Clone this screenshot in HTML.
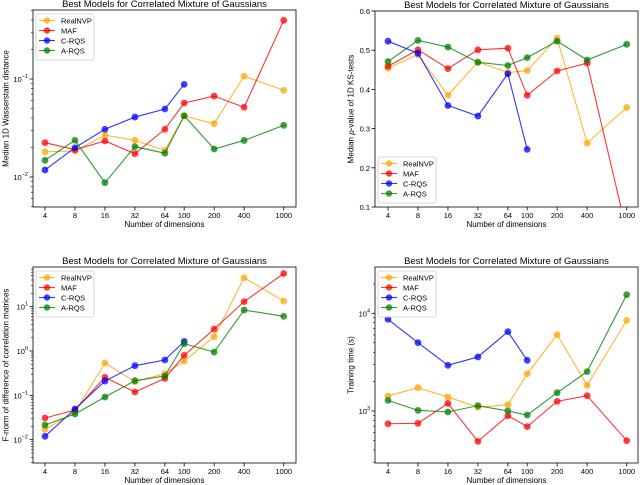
<!DOCTYPE html>
<html><head><meta charset="utf-8">
<style>
html,body{margin:0;padding:0;background:#fff;}
svg{display:block;font-family:"Liberation Sans","DejaVu Sans",sans-serif;}
</style></head>
<body>
<svg id="fig" width="640" height="485" viewBox="0 0 640 485" xmlns="http://www.w3.org/2000/svg"></svg>
<script>
const dims = [4, 8, 16, 32, 64, 100, 200, 400, 1000];
const seriesNames = ["RealNVP", "MAF", "C-RQS", "A-RQS"];
// Panel 1: Median 1D Wasserstein distance
const w_realnvp = [0.0181, 0.0184, 0.0268, 0.0237, 0.0187, 0.0419, 0.035, 0.107, 0.0767];
const w_maf = [0.0224, 0.019, 0.0233, 0.0173, 0.0307, 0.0569, 0.067, 0.0514, 0.397];
const w_crqs = [0.0118, 0.0199, 0.0307, 0.0409, 0.0494, 0.0882];
const w_arqs = [0.0148, 0.0237, 0.00875, 0.0204, 0.0175, 0.0422, 0.0193, 0.0236, 0.0337];
// Panel 2: Median p-value of KS tests
const p_realnvp = [0.454, 0.489, 0.385, 0.470, 0.443, 0.448, 0.531, 0.263, 0.354];
const p_maf = [0.459, 0.501, 0.453, 0.501, 0.505, 0.385, 0.447, 0.467, 0.037];
const p_crqs = [0.523, 0.492, 0.359, 0.332, 0.440, 0.247];
const p_arqs = [0.471, 0.525, 0.508, 0.469, 0.461, 0.481, 0.523, 0.475, 0.515];
// Panel 3: F-norm
const f_realnvp = [0.0171, 0.042, 0.536, 0.203, 0.308, 0.594, 2.1, 45, 13.4];
const f_maf = [0.0308, 0.0467, 0.255, 0.119, 0.241, 0.798, 3.13, 13, 56];
const f_crqs = [0.0119, 0.0492, 0.21, 0.467, 0.626, 1.65];
const f_arqs = [0.0214, 0.038, 0.0916, 0.214, 0.273, 1.46, 0.948, 8.4, 6.05];
// Panel 4: Training time
const t_realnvp = [1426, 1734, 1390, 1091, 1161, 2408, 6050, 1833, 8470];
const t_maf = [741, 748, 1197, 489, 895, 692, 1256, 1435, 497];
const t_crqs = [8690, 5010, 2937, 3576, 6490, 3305];
const t_arqs = [1285, 1016, 977, 1135, 1000, 910, 1541, 2530, 15520];
const linTicks = [0.1, 0.2, 0.3, 0.4, 0.5, 0.6];

const colors = ["#FFA500", "#FF0000", "#0000FF", "#008000"];
const NS = "http://www.w3.org/2000/svg";
const svg = document.getElementById("fig");
function mk(tag, attrs, parent) {
  const e = document.createElementNS(NS, tag);
  for (const k in attrs) e.setAttribute(k, attrs[k]);
  (parent || svg).appendChild(e);
  return e;
}

const panels = [
  {id:"wasserstein", x0:33, x1:296, y0:10, y1:207, px4:45, log:true, ymin:-2.306, ymax:-0.296,
   ylabel:"Median 1D Wasserstain distance", series:[w_realnvp,w_maf,w_crqs,w_arqs], legend:"ul", tickExp:[-2,-1], ylx:6},
  {id:"ks-pvalue", x0:375, x1:638, y0:11, y1:207, px4:388, log:false, ymin:0.1, ymax:0.6,
   ylabel:"Median p-value of 1D KS-tests", series:[p_realnvp,p_maf,p_crqs,p_arqs], legend:"ll", ylx:351},
  {id:"fnorm", x0:33, x1:296, y0:267, y1:463, px4:45, log:true, ymin:-2.526, ymax:1.895,
   ylabel:"F-norm of difference of correlation matrices", series:[f_realnvp,f_maf,f_crqs,f_arqs], legend:"ul", tickExp:[-2,-1,0,1], ylx:6},
  {id:"training-time", x0:375, x1:638, y0:267, y1:463, px4:388, log:true, ymin:2.468, ymax:4.474,
   ylabel:"Training time (s)", series:[t_realnvp,t_maf,t_crqs,t_arqs], legend:"ul", tickExp:[3,4], ylx:351}
];

panels.forEach(P => {
  const g = mk("g", {});
  
  
  const xs = d => P.px4 + 29.97 * Math.log2(d / 4);
  const ys = v => {
    const t = P.log ? Math.log10(v) : v;
    return P.y1 - (t - P.ymin) / (P.ymax - P.ymin) * (P.y1 - P.y0);
  };
  const cx = (P.x0 + P.x1) / 2;
  const title = mk("text", {x:cx, y:P.y0 - 3, "text-anchor":"middle", "font-size":"9.5", fill:"#000"}, g);
  title.textContent = "Best Models for Correlated Mixture of Gaussians";
  
  
  const xl = mk("text", {x:cx, y:P.y1 + 20, "text-anchor":"middle", "font-size":"8", fill:"#000"}, g);
  xl.textContent = "Number of dimensions";
  
  
  const ymid = (P.y0 + P.y1) / 2;
  const yl = mk("text", {x:P.ylx, y:ymid, "text-anchor":"middle", "font-size":"8", fill:"#000", transform:`rotate(-90 ${P.ylx} ${ymid})`, "dominant-baseline":"central"}, g);
  if (P.id === "ks-pvalue") {
    yl.appendChild(document.createTextNode("Median "));
    const it = mk("tspan", {"font-style":"italic"}, yl); it.textContent = "p";
    yl.appendChild(document.createTextNode("-value of 1D KS-tests"));
  } else yl.textContent = P.ylabel;
  
  

  const cp = mk("clipPath", {id:"clip-" + P.id}, g);
  mk("rect", {x:P.x0, y:P.y0, width:P.x1 - P.x0, height:P.y1 - P.y0}, cp);

  dims.forEach(d => {
    const x = xs(d);
    mk("line", {x1:x, x2:x, y1:P.y1, y2:P.y1 + 3.5, stroke:"#000", "stroke-width":0.8}, g);
    const t = mk("text", {x:x, y:P.y1 + 11, "text-anchor":"middle", "font-size":"7.5", fill:"#000"}, g);
    t.textContent = String(d);
    
    
  });
  if (P.log) {
    for (let e = Math.floor(P.ymin); e <= Math.ceil(P.ymax); e++) {
      for (let m = 1; m < 10; m++) {
        const lv = e + Math.log10(m);
        if (lv < P.ymin || lv > P.ymax) continue;
        const y = ys(Math.pow(10, lv));
        mk("line", {x1:P.x0 - (m === 1 ? 3.5 : 2), x2:P.x0, y1:y, y2:y, stroke:"#000", "stroke-width":m === 1 ? 0.8 : 0.6}, g);
      }
    }
    P.tickExp.forEach(e => {
      const y = ys(Math.pow(10, e));
      const t = mk("text", {x:P.x0 - 5, y:y + 3, "text-anchor":"end", "font-size":"7.5", fill:"#000"}, g);
      t.appendChild(document.createTextNode("10"));
      const s = mk("tspan", {dy:-4, "font-size":"5.5"}, t); s.textContent = String(e).replace("-", "\u2212");
      
      
    });
  } else {
    linTicks.forEach(v => {
      const y = ys(v);
      mk("line", {x1:P.x0 - 3.5, x2:P.x0, y1:y, y2:y, stroke:"#000", "stroke-width":0.8}, g);
      const t = mk("text", {x:P.x0 - 5, y:y + 3, "text-anchor":"end", "font-size":"7.5", fill:"#000"}, g);
      t.textContent = v.toFixed(1);
      
      
    });
  }
  const sg = mk("g", {"clip-path":`url(#clip-${P.id})`}, g);
  P.series.forEach((vals, si) => {
    const pts = vals.map((v, i) => [xs(dims[i]), ys(v)]);
    const pl = mk("polyline", {points:pts.map(p => p.join(",")).join(" "), fill:"none", stroke:colors[si], "stroke-width":1.1, "stroke-opacity":0.8}, sg);
    
    
    pts.forEach(p => {
      const c = mk("circle", {cx:p[0], cy:p[1], r:3.4, fill:colors[si], "fill-opacity":0.75}, sg);
      
      
    });
  });
  mk("rect", {x:P.x0, y:P.y0, width:P.x1 - P.x0, height:P.y1 - P.y0, fill:"none", stroke:"#000", "stroke-width":0.8}, g);
  const lx = P.x0 + 3, ly = P.legend === "ul" ? P.y0 + 4 : P.y1 - 50;
  const lg = mk("g", {}, g);
  
  
  mk("rect", {x:lx, y:ly, width:58, height:46, fill:"#fff", "fill-opacity":0.85, stroke:"#ccc", "stroke-width":0.8, rx:2}, lg);
  seriesNames.forEach((n, i) => {
    const y = ly + 6.5 + i * 10;
    const e = mk("g", {}, lg);
    
    
    mk("line", {x1:lx + 3, x2:lx + 19, y1:y, y2:y, stroke:colors[i], "stroke-width":1.1, "stroke-opacity":0.8}, e);
    mk("circle", {cx:lx + 11, cy:y, r:3.2, fill:colors[i], "fill-opacity":0.75}, e);
    const t = mk("text", {x:lx + 25, y:y + 2.8, "font-size":"7.5", fill:"#000"}, e);
    t.textContent = n;
  });
});
</script>
</body></html>
